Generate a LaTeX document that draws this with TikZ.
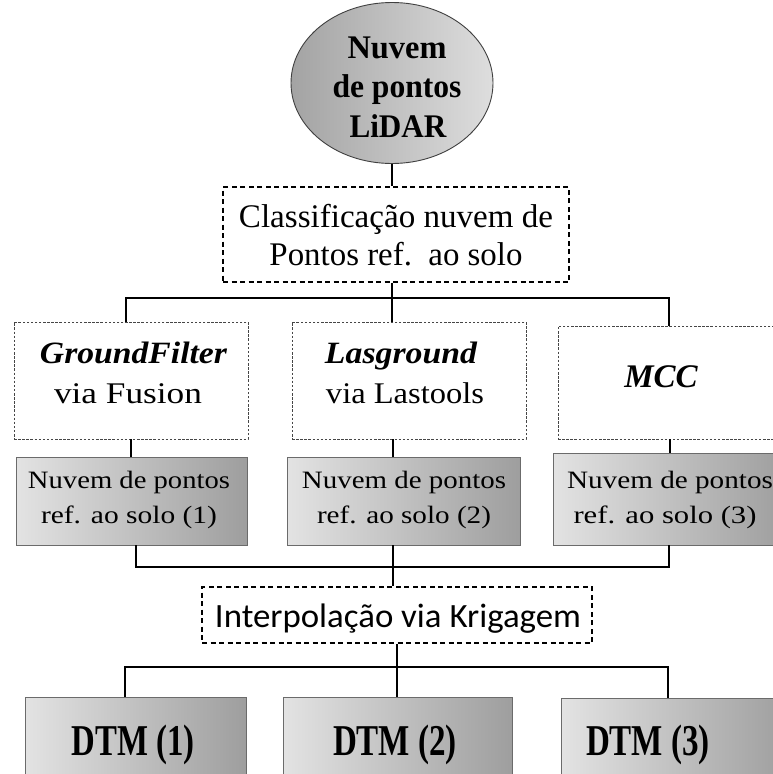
\documentclass[tikz,border=0pt]{standalone}
\usepackage{fontspec}
\usepackage{graphicx}
\setmainfont{Liberation Serif}
\newfontfamily\calib{Carlito}
\usetikzlibrary{shapes.geometric}
\definecolor{gl}{gray}{0.89}
\definecolor{gd}{gray}{0.62}
\definecolor{bd}{gray}{0.42}
\definecolor{el}{gray}{0.64}
\definecolor{er}{gray}{0.87}
\newcommand{\fw}[2]{\resizebox{#1}{\height}{#2}}
\newcommand{\fs}[1]{\fontsize{#1}{#1}\selectfont}
\tikzset{
  conn/.style={line width=1.3pt, draw=black},
  heavydash/.style={rectangle, inner sep=0pt, draw=black, line width=1.4pt, dash pattern=on 5pt off 3.5pt},
  finedash/.style={rectangle, inner sep=0pt, draw=gray!55!black, line width=0.8pt, dash pattern=on 2.5pt off 1.6pt},
  graybox/.style={rectangle, inner sep=0pt, draw=bd, line width=0.9pt, left color=gl, right color=gd},
  txt/.style={anchor=base, inner sep=0pt, outer sep=0pt},
}
\begin{document}
\begin{tikzpicture}[x=1pt,y=-1pt]
\useasboundingbox (0,0) rectangle (773,774);
\clip (0,0) rectangle (773,774);
\fill[white] (0,0) rectangle (773,774);

% ellipse
\node[ellipse, draw=black!75, line width=0.9pt, left color=el, right color=er,
  minimum width=202pt, minimum height=161pt, inner sep=0pt] (ell) at (392,83) {};
\node[txt] (e1) at (397,58) {\fw{99pt}{\fs{33}\bfseries Nuvem}};
\node[txt] (e2) at (397,97) {\fw{129pt}{\fs{33}\bfseries de pontos}};
\node[txt] (e3) at (398,137) {\fw{97pt}{\fs{33}\bfseries LiDAR}};

% classification box
\node[heavydash, minimum width=346pt, minimum height=95pt] (cls) at (396,234.5) {};
\node[txt] (c1) at (396,227) {\fw{314pt}{\fs{33}Classificação nuvem de}};
\node[txt] (c2) at (396,265) {\fw{253pt}{\fs{33}Pontos ref.\ \ ao solo}};

% method boxes
\node[finedash, minimum width=234pt, minimum height=117pt] (gf) at (131,380.5) {};
\node[finedash, minimum width=234pt, minimum height=117pt] (lg) at (409,380.5) {};
\node[finedash, minimum width=228pt, minimum height=113pt] (mcc) at (672,382.5) {};
\node[txt] (gf1) at (133.5,363) {\fw{187pt}{\fs{31}\bfseries\itshape GroundFilter}};
\node[txt] (gf2) at (128,403) {\fw{148pt}{\fs{30}via Fusion}};
\node[txt] (lg1) at (401,363) {\fw{152pt}{\fs{31}\bfseries\itshape Lasground}};
\node[txt] (lg2) at (405,403) {\fw{158pt}{\fs{30}via Lastools}};
\node[txt] (mc1) at (661,387) {\fs{33}\bfseries\itshape MCC};

% gray result boxes
\node[graybox, minimum width=231pt, minimum height=88pt] (g1) at (131.5,501) {};
\node[graybox, minimum width=233pt, minimum height=88pt] (g2) at (403.5,501) {};
\node[graybox, minimum width=232pt, minimum height=92pt] (g3) at (669,499) {};
\node[txt] (g1a) at (129,488) {\fw{202pt}{\fs{25}Nuvem de pontos}};
\node[txt] (g1b) at (129,523) {\fw{176pt}{\fs{25}ref. ao solo (1)}};
\node[txt] (g2a) at (404,488) {\fw{204pt}{\fs{25}Nuvem de pontos}};
\node[txt] (g2b) at (404,523) {\fw{174pt}{\fs{25}ref. ao solo (2)}};
\node[txt] (g3a) at (670,488) {\fw{206pt}{\fs{25}Nuvem de pontos}};
\node[txt] (g3b) at (665,523) {\fw{183pt}{\fs{25}ref. ao solo (3)}};

% interpolation box
\node[heavydash, minimum width=390pt, minimum height=56pt] (int) at (397,615) {};
\node[txt] (int1) at (398,627) {\fw{366pt}{\calib\fs{34}Interpolação via Krigagem}};

% DTM boxes
\node[graybox, minimum width=221pt, minimum height=110pt] (d1) at (135.5,752) {};
\node[graybox, minimum width=229pt, minimum height=110pt] (d2) at (397.5,752) {};
\node[graybox, minimum width=228pt, minimum height=110pt] (d3) at (675,753) {};
\node[txt] (d1t) at (133,755) {\fw{123pt}{\fs{44}\bfseries DTM (1)}};
\node[txt] (d2t) at (395,755) {\fw{124pt}{\fs{44}\bfseries DTM (2)}};
\node[txt] (d3t) at (648,755) {\fw{124pt}{\fs{44}\bfseries DTM (3)}};

% connectors
\coordinate (hA) at (126,298);
\coordinate (hM) at (392,298);
\coordinate (hB) at (669,298);
\draw[conn] (ell.south) -- (ell.south |- cls.north);
\draw[conn] (hM |- cls.south) -- (hM);
\draw[conn] (hA |- gf.north) -- (hA) -- (hB) -- (hB |- mcc.north);
\draw[conn] (hM) -- (hM |- lg.north);

\draw[conn] (gf.south -| 131,0) -- (g1.north -| 131,0);
\draw[conn] (lg.south -| 393,0) -- (g2.north -| 393,0);
\draw[conn] (mcc.south -| 670,0) -- (g3.north -| 670,0);

\coordinate (bA) at (136,567);
\coordinate (bM) at (393,567);
\coordinate (bB) at (669,567);
\draw[conn] (bA |- g1.south) -- (bA) -- (bB) -- (bB |- g3.south);
\draw[conn] (bM |- g2.south) -- (bM |- int.north);

\coordinate (cA) at (125,667);
\coordinate (cM) at (397,667);
\coordinate (cB) at (668,667);
\draw[conn] (cM |- int.south) -- (cM |- d2.north);
\draw[conn] (cA |- d1.north) -- (cA) -- (cB) -- (cB |- d3.north);
\end{tikzpicture}
\end{document}
